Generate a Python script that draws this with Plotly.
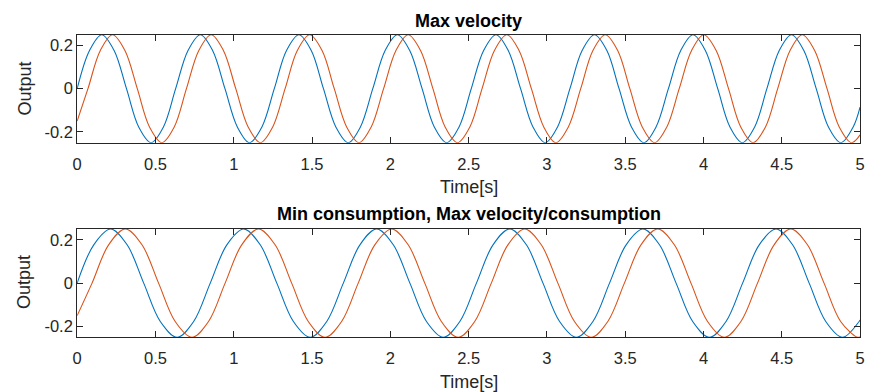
import plotly.graph_objects as go

# ---------------- data ----------------
# Top panel ("Max velocity")
t_top_blue = [0.000, 0.079, 0.157, 0.236, 0.315, 0.393, 0.472, 0.551,
              0.629, 0.708, 0.787, 0.865, 0.944, 1.023, 1.101, 1.180,
              1.259, 1.337, 1.416, 1.495, 1.573, 1.652, 1.731, 1.809,
              1.888, 1.967, 2.045, 2.124, 2.203, 2.281, 2.360, 2.439,
              2.517, 2.596, 2.675, 2.753, 2.832, 2.911, 2.989, 3.068,
              3.147, 3.225, 3.304, 3.383, 3.461, 3.540, 3.619, 3.697,
              3.776, 3.855, 3.933, 4.012, 4.091, 4.169, 4.248, 4.327,
              4.405, 4.484, 4.562, 4.641, 4.720, 4.798, 4.877, 4.956, 5.000]
y_top_blue = [0.0, 0.177, 0.25, 0.177, 0.0, -0.177, -0.25, -0.177,
              0.0, 0.177, 0.25, 0.177, 0.0, -0.177, -0.25, -0.177,
              0.0, 0.177, 0.25, 0.177, 0.0, -0.177, -0.25, -0.177,
              0.0, 0.177, 0.25, 0.177, 0.0, -0.177, -0.25, -0.177,
              0.0, 0.177, 0.25, 0.177, 0.0, -0.177, -0.25, -0.177,
              0.0, 0.177, 0.25, 0.177, 0.0, -0.177, -0.25, -0.177,
              0.0, 0.177, 0.25, 0.177, 0.0, -0.177, -0.25, -0.177,
              0.0, 0.177, 0.25, 0.177, 0.0, -0.177, -0.25, -0.177, -0.085]

t_top_orange = [0.000, 0.069, 0.148, 0.226, 0.305, 0.384, 0.462, 0.541,
                0.620, 0.698, 0.777, 0.856, 0.934, 1.013, 1.092, 1.170,
                1.249, 1.328, 1.406, 1.485, 1.564, 1.642, 1.721, 1.800,
                1.878, 1.957, 2.036, 2.114, 2.193, 2.272, 2.350, 2.429,
                2.508, 2.586, 2.665, 2.744, 2.822, 2.901, 2.980, 3.058,
                3.137, 3.216, 3.294, 3.373, 3.452, 3.530, 3.609, 3.688,
                3.766, 3.845, 3.924, 4.002, 4.081, 4.160, 4.238, 4.317,
                4.396, 4.474, 4.553, 4.631, 4.710, 4.789, 4.867, 4.946, 5.000]
y_top_orange = [-0.15, 0.0, 0.177, 0.25, 0.177, 0.0, -0.177, -0.25, -0.177,
                0.0, 0.177, 0.25, 0.177, 0.0, -0.177, -0.25, -0.177,
                0.0, 0.177, 0.25, 0.177, 0.0, -0.177, -0.25, -0.177,
                0.0, 0.177, 0.25, 0.177, 0.0, -0.177, -0.25, -0.177,
                0.0, 0.177, 0.25, 0.177, 0.0, -0.177, -0.25, -0.177,
                0.0, 0.177, 0.25, 0.177, 0.0, -0.177, -0.25, -0.177,
                0.0, 0.177, 0.25, 0.177, 0.0, -0.177, -0.25, -0.177,
                0.0, 0.177, 0.25, 0.177, 0.0, -0.177, -0.25, -0.214]

# Bottom panel ("Min consumption, Max velocity/consumption")
t_bot_blue = [0.000, 0.106, 0.213, 0.319, 0.425, 0.531, 0.638, 0.744,
              0.850, 0.956, 1.063, 1.169, 1.275, 1.381, 1.488, 1.594,
              1.700, 1.806, 1.913, 2.019, 2.125, 2.231, 2.338, 2.444,
              2.550, 2.656, 2.763, 2.869, 2.975, 3.081, 3.188, 3.294,
              3.400, 3.506, 3.613, 3.719, 3.825, 3.931, 4.038, 4.144,
              4.250, 4.356, 4.463, 4.569, 4.675, 4.781, 4.888, 4.994, 5.000]
y_bot_blue = [0.0, 0.177, 0.25, 0.177, 0.0, -0.177, -0.25, -0.177,
              0.0, 0.177, 0.25, 0.177, 0.0, -0.177, -0.25, -0.177,
              0.0, 0.177, 0.25, 0.177, 0.0, -0.177, -0.25, -0.177,
              0.0, 0.177, 0.25, 0.177, 0.0, -0.177, -0.25, -0.177,
              0.0, 0.177, 0.25, 0.177, 0.0, -0.177, -0.25, -0.177,
              0.0, 0.177, 0.25, 0.177, 0.0, -0.177, -0.25, -0.177, -0.17]

t_bot_orange = [0.000, 0.095, 0.201, 0.308, 0.414, 0.520, 0.626, 0.733,
                0.839, 0.945, 1.051, 1.158, 1.264, 1.370, 1.476, 1.583,
                1.689, 1.795, 1.901, 2.008, 2.114, 2.220, 2.326, 2.433,
                2.539, 2.645, 2.751, 2.858, 2.964, 3.070, 3.176, 3.283,
                3.389, 3.495, 3.601, 3.708, 3.814, 3.920, 4.026, 4.133,
                4.239, 4.345, 4.451, 4.558, 4.664, 4.770, 4.876, 4.983, 5.000]
y_bot_orange = [-0.15, 0.0, 0.177, 0.25, 0.177, 0.0, -0.177, -0.25, -0.177,
                0.0, 0.177, 0.25, 0.177, 0.0, -0.177, -0.25, -0.177,
                0.0, 0.177, 0.25, 0.177, 0.0, -0.177, -0.25, -0.177,
                0.0, 0.177, 0.25, 0.177, 0.0, -0.177, -0.25, -0.177,
                0.0, 0.177, 0.25, 0.177, 0.0, -0.177, -0.25, -0.177,
                0.0, 0.177, 0.25, 0.177, 0.0, -0.177, -0.25, -0.248]

x_tick_vals = [0, 0.5, 1, 1.5, 2, 2.5, 3, 3.5, 4, 4.5, 5]
x_tick_text = ["0", "0.5", "1", "1.5", "2", "2.5", "3", "3.5", "4", "4.5", "5"]
y_tick_vals = [-0.2, 0, 0.2]
y_tick_text = ["-0.2", "0", "0.2"]

titles = ["Max velocity", "Min consumption, Max velocity/consumption"]
x_label = "Time[s]"
y_label = "Output"

# ---------------- styling ----------------
W, H = 870, 392
BLUE = "#0072BD"
ORANGE = "#D95319"
AX = "#262626"
FONT = "Liberation Sans, Arial, sans-serif"

def py(px):
    return 1 - px / H

fig = go.Figure()
line_w = 1.1
for t, y, c, xa, ya in [
    (t_top_blue, y_top_blue, BLUE, "x", "y"),
    (t_top_orange, y_top_orange, ORANGE, "x", "y"),
    (t_bot_blue, y_bot_blue, BLUE, "x2", "y2"),
    (t_bot_orange, y_bot_orange, ORANGE, "x2", "y2"),
]:
    fig.add_trace(go.Scatter(x=t, y=y, mode="lines", xaxis=xa, yaxis=ya,
                             line=dict(color=c, width=line_w, shape="spline", smoothing=1),
                             showlegend=False, hoverinfo="skip"))

xdom = [73 / W, 865 / W]
common_x = dict(range=[0, 5], tickvals=x_tick_vals, ticktext=x_tick_text,
                showgrid=False, zeroline=False, showline=True, mirror="ticks",
                linecolor=AX, linewidth=1, ticks="inside", ticklen=6, tickwidth=1,
                tickcolor=AX, tickfont=dict(family=FONT, size=16.5, color=AX),
                ticklabelstandoff=6, domain=xdom)
common_y = dict(range=[-0.25, 0.25], tickvals=y_tick_vals, ticktext=y_tick_text,
                showgrid=False, zeroline=False, showline=True, mirror="ticks",
                linecolor=AX, linewidth=1, ticks="inside", ticklen=6, tickwidth=1,
                tickcolor=AX, tickfont=dict(family=FONT, size=16.5, color=AX))

fig.update_layout(
    width=W, height=H,
    margin=dict(l=0, r=0, t=0, b=0),
    paper_bgcolor="white", plot_bgcolor="white",
    xaxis=dict(**common_x, anchor="y"),
    yaxis=dict(**common_y, anchor="x", domain=[py(142.7), py(34.7)]),
    xaxis2=dict(**common_x, anchor="y2"),
    yaxis2=dict(**common_y, anchor="x2", domain=[py(337.3), py(229)]),
)

cx = (73 + 865) / 2 / W
ann = []
for title, ty, xl_y, yl_y in [(titles[0], 21, 187, 88.7), (titles[1], 214, 382, 282.3)]:
    ann.append(dict(text="<b>" + title + "</b>", x=cx, y=py(ty), xref="paper", yref="paper",
                    xanchor="center", yanchor="middle", showarrow=False,
                    font=dict(family=FONT, size=18, color="black")))
    ann.append(dict(text=x_label, x=cx, y=py(xl_y), xref="paper", yref="paper",
                    xanchor="center", yanchor="middle", showarrow=False,
                    font=dict(family=FONT, size=18, color=AX)))
    ann.append(dict(text=y_label, x=20 / W, y=py(yl_y), xref="paper", yref="paper",
                    xanchor="center", yanchor="middle", showarrow=False, textangle=-90,
                    font=dict(family=FONT, size=18, color=AX)))
fig.update_layout(annotations=ann)

fig.write_html("out.html", config={"displayModeBar": False},
               post_script="document.body.style.margin='0';document.body.style.overflow='hidden';")
